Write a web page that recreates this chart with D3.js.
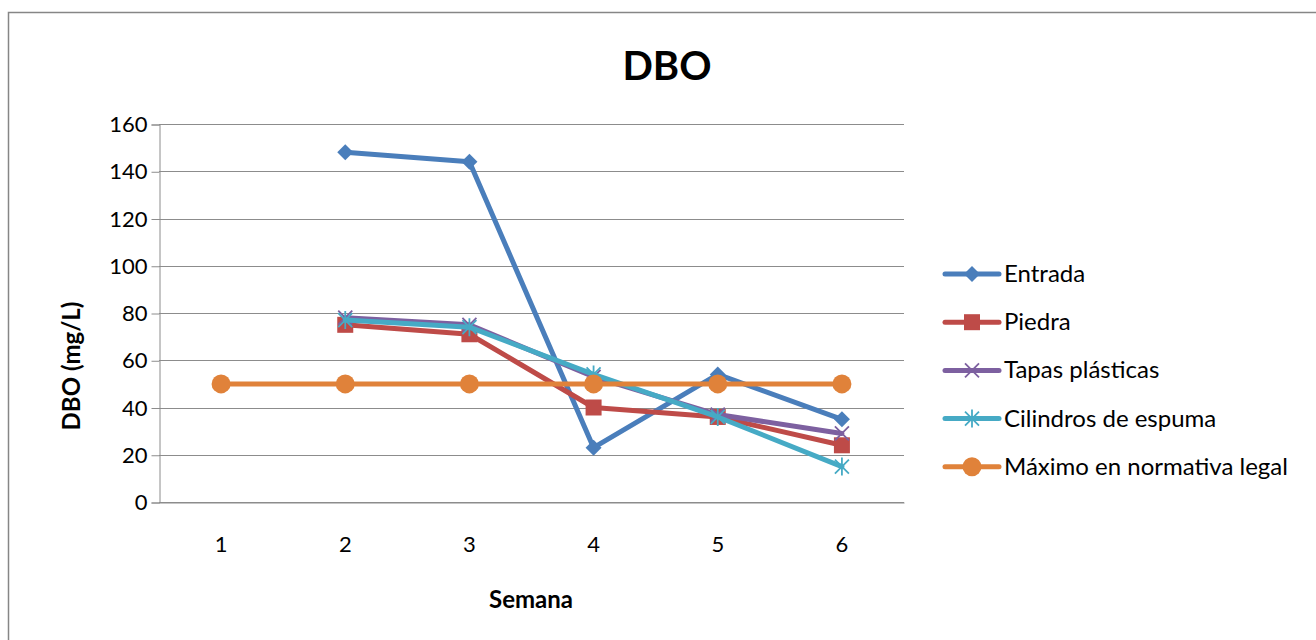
<!DOCTYPE html>
<html>
<head>
<meta charset="utf-8">
<script src="https://cdn.jsdelivr.net/npm/d3@7"></script>
<style>
  body { margin: 0; background: #fff; }
  svg { font-family: Lato, "Open Sans", sans-serif; }
</style>
</head>
<body>
<svg id="chart" width="1316" height="640"></svg>
<script>
// data
var semanas = ["1", "2", "3", "4", "5", "6"];
var entrada = [null, 148, 144, 23, 54, 35];
var piedra = [null, 75, 71, 40, 36, 24];
var tapas = [null, 78, 75, 53, 37, 29];
var cilindros = [null, 77, 74, 54, 36, 15];
var maximo = [50, 50, 50, 50, 50, 50];
var yTicks = [0, 20, 40, 60, 80, 100, 120, 140, 160];

var series = [
  { name: "Entrada", values: entrada, color: "#4A7EBB", marker: "diamond" },
  { name: "Piedra", values: piedra, color: "#BE4B48", marker: "square" },
  { name: "Tapas plásticas", values: tapas, color: "#7D60A0", marker: "x" },
  { name: "Cilindros de espuma", values: cilindros, color: "#46AAC5", marker: "star" },
  { name: "Máximo en normativa legal", values: maximo, color: "#E0823A", marker: "circle" }
];

var svg = d3.select("#chart");

// outer chart border
svg.append("rect")
  .attr("x", 8.5).attr("y", 12.5)
  .attr("width", 1320).attr("height", 640)
  .attr("fill", "none")
  .attr("stroke", "#868686")
  .attr("stroke-width", 1.5);

var margin = { left: 159, top: 124, right: 904, bottom: 502 };

var x = d3.scaleBand()
  .domain(semanas)
  .range([margin.left, margin.right]);

var y = d3.scaleLinear()
  .domain([0, 160])
  .range([margin.bottom, margin.top]);

// gridlines
svg.append("g")
  .selectAll("line")
  .data(yTicks)
  .enter()
  .append("line")
  .attr("x1", margin.left)
  .attr("x2", margin.right)
  .attr("y1", d => Math.round(y(d)) + 0.5)
  .attr("y2", d => Math.round(y(d)) + 0.5)
  .attr("stroke", "#8c8c8c")
  .attr("stroke-width", 1);

// y axis
var yAxis = svg.append("g")
  .attr("transform", `translate(${margin.left + 0.5},0.5)`)
  .call(d3.axisLeft(y).tickValues(yTicks).tickSize(8).tickPadding(4));
yAxis.select(".domain").attr("stroke", "#8c8c8c");
yAxis.selectAll(".tick line").attr("stroke", "#8c8c8c");
yAxis.selectAll("text")
  .attr("font-family", "Lato, sans-serif")
  .attr("font-size", "22px")
  .attr("fill", "#000");

// x axis
var xAxis = svg.append("g")
  .attr("transform", `translate(0,${margin.bottom + 0.5})`)
  .call(d3.axisBottom(x).tickSize(0).tickPadding(34));
xAxis.select(".domain").attr("stroke", "#8c8c8c");
xAxis.selectAll("text")
  .attr("font-family", "Lato, sans-serif")
  .attr("font-size", "22px")
  .attr("fill", "#000");

// titles
svg.append("text")
  .attr("x", 667).attr("y", 80)
  .attr("text-anchor", "middle")
  .attr("font-size", "40px")
  .attr("font-weight", "bold")
  .text("DBO");

svg.append("text")
  .attr("x", 531).attr("y", 608)
  .attr("text-anchor", "middle")
  .attr("font-size", "24px")
  .attr("font-weight", "bold")
  .text("Semana");

svg.append("text")
  .attr("transform", "translate(80,366) rotate(-90)")
  .attr("text-anchor", "middle")
  .attr("font-size", "24px")
  .attr("font-weight", "bold")
  .text("DBO (mg/L)");

// marker drawing
function drawMarker(g, type, color) {
  if (type === "diamond") {
    g.append("path").attr("d", "M0,-8L8,0L0,8L-8,0Z").attr("fill", color);
  } else if (type === "square") {
    g.append("rect").attr("x", -8).attr("y", -8).attr("width", 16).attr("height", 16).attr("fill", color);
  } else if (type === "circle") {
    g.append("circle").attr("r", 9.5).attr("fill", color);
  } else if (type === "x") {
    g.append("path").attr("d", "M-7,-7L7,7M-7,7L7,-7")
      .attr("stroke", color).attr("stroke-width", 1.8).attr("fill", "none");
  } else if (type === "star") {
    g.append("path").attr("d", "M-7,-7L7,7M-7,7L7,-7M0,-9L0,9")
      .attr("stroke", color).attr("stroke-width", 1.8).attr("fill", "none");
  }
}

var line = d3.line()
  .defined(d => d.v != null)
  .x(d => x(d.s) + x.bandwidth() / 2)
  .y(d => y(d.v));

series.forEach(function (s) {
  var pts = semanas.map((sem, i) => ({ s: sem, v: s.values[i] }));
  var g = svg.append("g");
  g.append("path")
    .attr("d", line(pts))
    .attr("fill", "none")
    .attr("stroke", s.color)
    .attr("stroke-width", 5)
    .attr("stroke-linejoin", "round")
    .attr("stroke-linecap", "round");
  pts.filter(d => d.v != null).forEach(function (d) {
    var m = g.append("g")
      .attr("transform", `translate(${x(d.s) + x.bandwidth() / 2},${y(d.v)})`);
    drawMarker(m, s.marker, s.color);
  });
});

// legend
var legend = svg.append("g");
series.forEach(function (s, i) {
  var ly = 274 + i * 48.2;
  var row = legend.append("g");
  row.append("line")
    .attr("x1", 945).attr("x2", 999)
    .attr("y1", ly).attr("y2", ly)
    .attr("stroke", s.color)
    .attr("stroke-width", 5)
    .attr("stroke-linecap", "round");
  var m = row.append("g").attr("transform", `translate(972,${ly})`);
  drawMarker(m, s.marker, s.color);
  row.append("text")
    .attr("x", 1004).attr("y", ly + 8)
    .attr("font-size", "24px")
    .attr("fill", "#000")
    .text(s.name);
});
</script>
</body>
</html>
